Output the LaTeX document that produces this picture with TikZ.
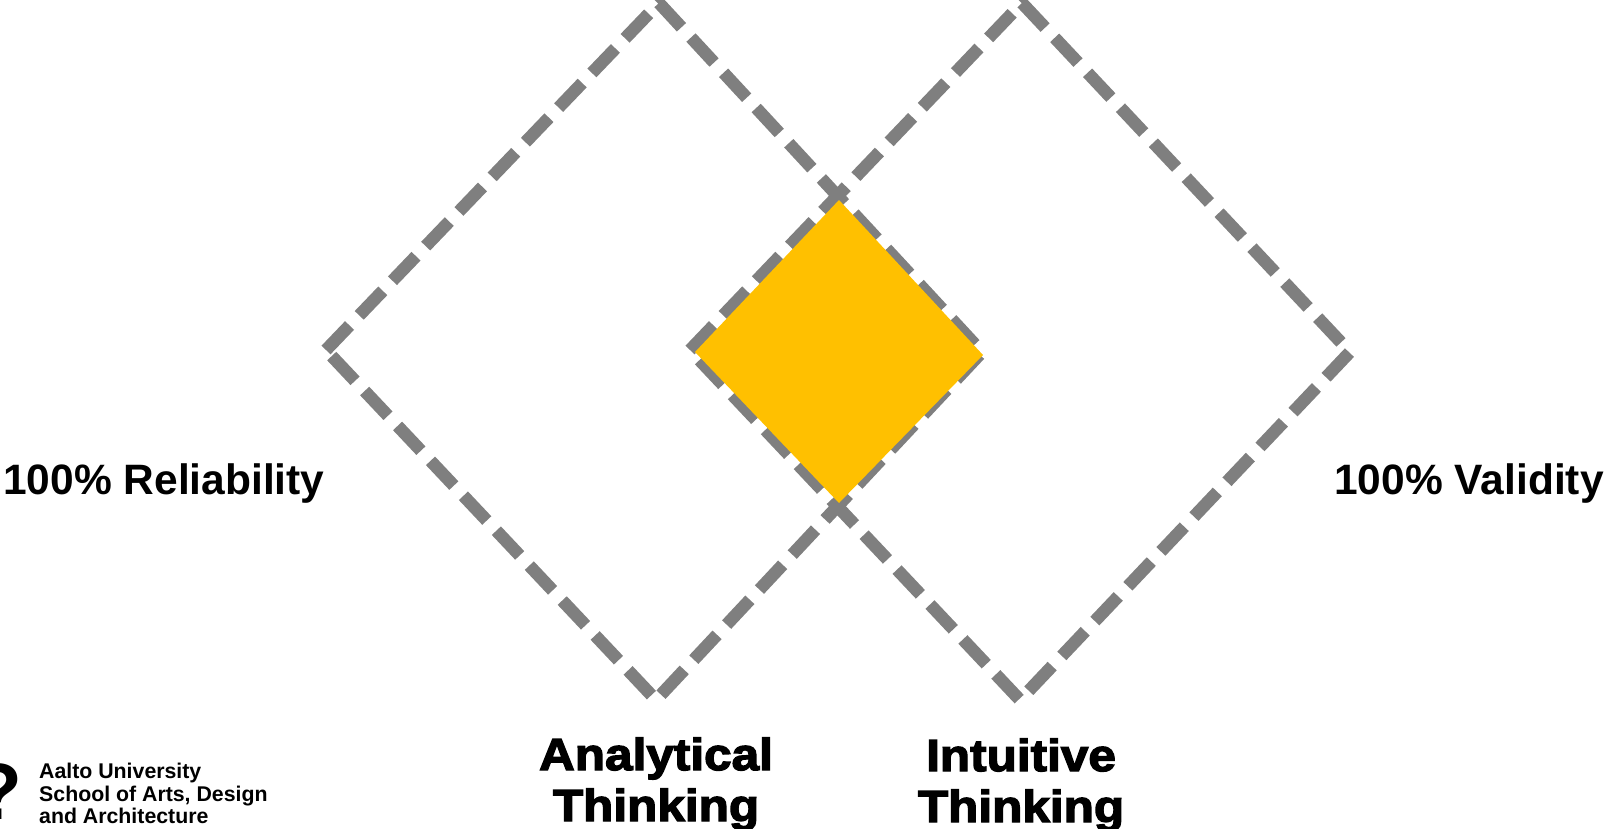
\documentclass[tikz,border=0pt]{standalone}
\usepackage{fontspec}
\setmainfont{Liberation Sans}
\newfontface\heavyface[FakeBold=3,FakeStretch=1.1]{Liberation Sans Bold}
\tikzset{
  dia/.style={draw=dashgray,line width=12.5pt,dash pattern=on 34pt off 14pt,line join=miter},
  side/.style={font=\fontsize{42.5}{44}\selectfont\bfseries,inner sep=0pt,anchor=base},
  heavy/.style={font=\fontsize{45}{51}\selectfont\heavyface,inner sep=0pt,align=center,anchor=center},
  logo/.style={font=\fontsize{21.3}{22.6}\selectfont\bfseries,inner sep=0pt,align=left,anchor=north west}
}
\definecolor{dashgray}{RGB}{127,127,127}
\definecolor{gold}{RGB}{255,192,0}
\begin{document}
\begin{tikzpicture}[x=1pt,y=-1pt]
\useasboundingbox (0,0) rectangle (1607,828);
\clip (0,0) rectangle (1607,828);
\draw[dia] (326,350) -- (659,3) -- (982,352) -- (656,700) -- cycle;
\draw[dia] (690,350) -- (1022,3) -- (1350,352) -- (1020,700) -- cycle;
\fill[gold] (695,352) -- (839,200) -- (983,355) -- (839,503) -- cycle;
\node[side] (rel) at (164,494) {100\% Reliability};
\node[side] (val) at (1469,494) {100\% Validity};
\node[heavy] (ana) at (656,784) {Analytical\\Thinking};
\node[heavy] (int) at (1021,785) {Intuitive\\Thinking};
\node[logo] (org) at (39,763) {Aalto University\\School of Arts, Design\\and Architecture};
\node[font=\fontsize{80}{80}\selectfont\bfseries,inner sep=0pt,anchor=base] (q) at (-2,819) {?};
\end{tikzpicture}
\end{document}
